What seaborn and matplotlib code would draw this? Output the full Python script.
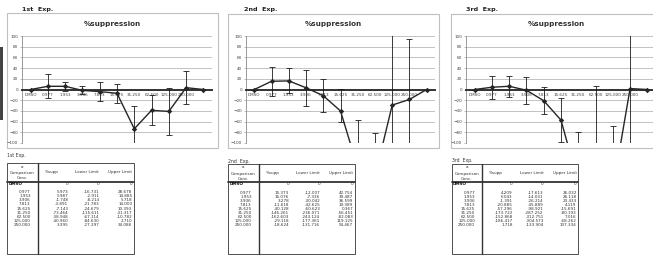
import numpy as np
import pandas as pd
import seaborn as sns
import matplotlib.pyplot as plt
from matplotlib.patches import Rectangle

# concentrations (category labels) shared by the three experiments
conc = ['DMSO', '0.977', '1.953', '3.906', '7.813', '15.625',
        '31.250', '62.500', '125.000', '250.000']

# 1st Exp.
supp1 = [0, 5.973, 5.987, -1.748, -3.891, -7.143, -73.464, -38.948, -40.960, 3.395]
low1 = [0, -16.731, -2.911, -8.214, -21.783, -24.679, -115.611, -67.114, -84.630, -27.297]
up1 = [0, 28.678, 14.885, 5.718, 14.000, 10.393, -31.317, -10.782, 2.710, 34.086]

# 2nd Exp.
supp2 = [0, 15.373, 16.076, 3.278, -11.618, -40.128, -146.261, -162.603, -29.118, -18.624]
low2 = [0, -12.007, -7.336, -30.042, -42.625, -60.623, -236.071, -243.124, -177.361, -131.716]
up2 = [0, 42.754, 39.487, 36.599, 19.389, 0.367, -56.451, -82.083, 119.125, 94.467]

# 3rd Exp.
supp3 = [0, 4.209, 6.043, -1.391, -20.885, -57.296, -173.722, -152.868, -186.417, 1.718]
low3 = [0, -17.613, -14.031, -26.214, -45.889, -98.921, -287.252, -312.751, -304.573, -133.904]
up3 = [0, 26.032, 26.118, 23.433, 4.119, -15.691, -80.193, 7.016, -68.262, 137.334]

# the chart range has one trailing empty cell, plotted as 0
trail = [0]

W, H = 653, 262
sns.set_theme(style='white')
plt.rcParams['font.family'] = ['DejaVu Sans']

fig = plt.figure(figsize=(W / 100, H / 100), dpi=100)
fig.patch.set_facecolor('white')

# overlay in pixel units for frames, labels and tables
ov = fig.add_axes([0, 0, 1, 1], zorder=0)
ov.set_xlim(0, W)
ov.set_ylim(H, 0)
ov.axis('off')


def px_axes(l, t, r, b):
    return fig.add_axes([l / W, 1 - b / H, (r - l) / W, (b - t) / H], zorder=2)


def draw_chart(box, area, exp_label, lab_x, supp, low, up):
    fl, ft, fr, fb = box
    ov.add_patch(Rectangle((fl, ft), fr - fl, fb - ft, fill=False, ec='#bfbfbf', lw=0.8))
    ov.text(lab_x, 10, exp_label, fontsize=4.6, fontweight='bold', color='#222222',
            va='center', ha='left')
    ov.text((fl + fr) / 2, 24, '%suppression', fontsize=5.2, fontweight='bold',
            color='#333333', va='center', ha='center')

    ax = px_axes(*area)
    ax.patch.set_alpha(0)
    labels = conc + ['']
    pos = np.arange(len(labels))
    vals = list(supp) + trail
    df = pd.DataFrame({'pos': pos, 'val': vals})
    sns.lineplot(data=df, x='pos', y='val', ax=ax, color='#262626', lw=1.0,
                 marker='D', markersize=2.8, markeredgewidth=0, zorder=4)
    s = np.array(supp)
    err = [s - np.array(low), np.array(up) - s]
    ax.errorbar(pos[:len(supp)], s, yerr=err, fmt='none', ecolor='#1a1a1a',
                elinewidth=0.6, capsize=2.0, capthick=0.6, zorder=3)

    ax.set_xlim(-0.5, len(labels) - 0.5)
    ax.set_ylim(-100, 100)
    ax.set_yticks(range(-100, 101, 20))
    ax.set_xticks(pos)
    ax.set_xticklabels(labels)
    ax.set_xlabel('')
    ax.set_ylabel('')
    ax.grid(axis='y', color='#b8b8b8', lw=0.6)
    ax.set_axisbelow(True)
    for side in ['top', 'right']:
        ax.spines[side].set_visible(False)
    ax.spines['bottom'].set_position(('data', 0))
    ax.spines['bottom'].set_color('#333333')
    ax.spines['bottom'].set_linewidth(1.4)
    ax.spines['bottom'].set_zorder(2.5)
    ax.spines['left'].set_color('#8c8c8c')
    ax.spines['left'].set_linewidth(0.6)
    ax.tick_params(axis='x', length=0, pad=2.6, labelsize=3.0, labelcolor='#404040')
    ax.tick_params(axis='y', length=1.5, width=0.4, color='#8c8c8c', pad=1.2,
                   labelsize=3.0, labelcolor='#404040', left=True)
    return ax


draw_chart((7, 13, 218, 148), (22, 36, 212, 143), '1st  Exp.', 21.5, supp1, low1, up1)
draw_chart((228, 14, 439, 148), (245.7, 36, 435.3, 143), '2nd  Exp.', 243.5, supp2, low2, up2)
draw_chart((451, 14, 662, 148), (466, 36, 656, 143), '3rd  Exp.', 466, supp3, low3, up3)


def fmt(v, first):
    return '0' if first else f'{v:.3f}'


def draw_table(left, top, label, label_y, supp, low, up):
    right = left + 126.5
    bottom = 254
    ink = '#333333'
    ov.add_patch(Rectangle((left, top), right - left, bottom - top, fill=False, ec=ink, lw=0.6))
    ov.plot([left + 30.5] * 2, [top, bottom], color=ink, lw=1.0)
    ov.plot([left, right], [top + 18.3] * 2, color=ink, lw=1.3)
    ov.text(left, label_y, label, fontsize=3.3, color=ink, va='center', ha='left')
    fs = 3.0
    ov.text(left + 15, top + 3.2, 'a', fontsize=fs, color=ink, ha='center', va='center')
    ov.text(left + 15, top + 9.6, 'Comparison', fontsize=fs, color=ink, ha='center', va='center')
    ov.text(left + 15, top + 15, 'Conc.', fontsize=fs, color=ink, ha='center', va='center')
    ov.text(left + 44, top + 9, '%supp', fontsize=fs, color=ink, ha='center', va='center')
    ov.text(left + 80, top + 9, 'Lower Limit', fontsize=fs, color=ink, ha='center', va='center')
    ov.text(right - 1.5, top + 9, 'Upper Limit', fontsize=fs, color=ink, ha='right', va='center')
    cols = [(left + 61, supp), (left + 92, low), (right - 1.5, up)]
    for i, c in enumerate(conc):
        y = top + 20.3 if i == 0 else top + 29 + (i - 1) * 4.05
        if i == 0:
            ov.text(left + 1, y, c, fontsize=fs, color='#111111', ha='left', va='center',
                    fontweight='bold')
        else:
            ov.text(left + 23.5, y, c, fontsize=fs, color=ink, ha='right', va='center')
        for x, arr in cols:
            ov.text(x, y, fmt(arr[i], i == 0), fontsize=fs, color=ink, ha='right', va='center')


draw_table(7.3, 163.3, '1st Exp.', 155, supp1, low1, up1)
draw_table(228.3, 164, '2nd  Exp.', 161, supp2, low2, up2)
draw_table(451.7, 164, '3rd  Exp.', 160.5, supp3, low3, up3)

# dark strip at the left edge of the sheet
ov.add_patch(Rectangle((0, 47), 3, 73, color='#444444', lw=0))

fig.savefig('out.png', dpi=100, facecolor='white')
